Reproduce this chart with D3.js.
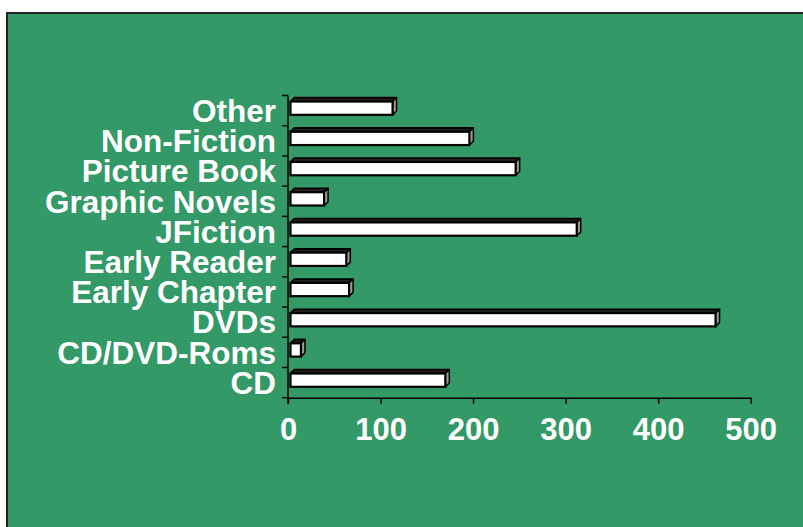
<!DOCTYPE html>
<html>
<head>
<meta charset="utf-8">
<script src="https://cdn.jsdelivr.net/npm/d3@7"></script>
<style>
  html, body { margin: 0; padding: 0; background: #ffffff; }
  svg { display: block; }
</style>
</head>
<body>
<script>
// Circulation by collection type
const categories = ["Other", "Non-Fiction", "Picture Book", "Graphic Novels", "JFiction",
                    "Early Reader", "Early Chapter", "DVDs", "CD/DVD-Roms", "CD"];
const counts = [113, 196, 246, 39, 312, 63, 66, 462, 14, 170];
const tickValues = [0, 100, 200, 300, 400, 500];

const W = 803, H = 527;
const svg = d3.select("body").append("svg").attr("width", W).attr("height", H);

// Green panel with dark frame
svg.append("rect")
  .attr("x", 7).attr("y", 13).attr("width", W + 10).attr("height", H + 10)
  .attr("fill", "#339966").attr("stroke", "#222").attr("stroke-width", 2);

const x = d3.scaleLinear().domain([0, 500]).range([288, 750.7]);
const y = d3.scaleBand().domain(categories).range([95.5, 397.7]).padding(0);
const bw = y.bandwidth();

const font = "'Liberation Sans', Arial, sans-serif";

// Value axis
const xAxis = svg.append("g")
  .attr("transform", `translate(0,${y.range()[1]})`)
  .call(d3.axisBottom(x).tickValues(tickValues).tickSize(6).tickSizeOuter(0).tickPadding(14));
xAxis.select(".domain").attr("stroke", "#000").attr("stroke-width", 1.5);
xAxis.selectAll(".tick line").attr("stroke", "#000").attr("stroke-width", 1.5);
xAxis.selectAll(".tick text")
  .attr("fill", "#fff").attr("font-family", font).attr("font-weight", "bold")
  .attr("font-size", 31).attr("dy", "0.71em");

// Category axis: ticks at band boundaries, labels centred in each band
const yAxis = svg.append("g").attr("transform", `translate(${x(0)},0)`);
yAxis.append("line")
  .attr("x1", 0).attr("x2", 0).attr("y1", y.range()[0]).attr("y2", y.range()[1] + 6)
  .attr("stroke", "#000").attr("stroke-width", 1.5);
const bounds = categories.map(c => y(c)).concat([y.range()[1]]);
yAxis.selectAll("line.tk").data(bounds).join("line").attr("class", "tk")
  .attr("x1", -6).attr("x2", 0).attr("y1", d => d).attr("y2", d => d)
  .attr("stroke", "#000").attr("stroke-width", 1.5);
yAxis.selectAll("text").data(categories).join("text")
  .attr("x", -12).attr("y", d => y(d) + bw / 2).attr("dy", "0.36em")
  .attr("text-anchor", "end").attr("fill", "#fff")
  .attr("font-family", font).attr("font-weight", "bold").attr("font-size", 31.5)
  .text(d => d);

// 3-D style bars: top face, side face, then front face
const dx = 4, dy = -3.8;
const bars = svg.append("g").selectAll("g").data(categories).join("g");
const fy = c => y(c) + bw * 0.2;
const fh = bw * 0.44;
const x0 = x(0) + 2.5;

bars.append("path")
  .attr("d", (c, i) => {
    const x1 = x(counts[i]), t = fy(c);
    return `M${x0},${t}L${x0 + dx},${t + dy}L${x1 + dx},${t + dy}L${x1},${t}Z`;
  })
  .attr("fill", "#222").attr("stroke", "#000").attr("stroke-width", 1.8).attr("stroke-linejoin", "round");

bars.append("path")
  .attr("d", (c, i) => {
    const x1 = x(counts[i]), t = fy(c);
    return `M${x1},${t}L${x1 + dx},${t + dy}L${x1 + dx},${t + dy + fh}L${x1},${t + fh}Z`;
  })
  .attr("fill", "#999").attr("stroke", "#000").attr("stroke-width", 1.5).attr("stroke-linejoin", "round");

bars.append("rect")
  .attr("x", x0).attr("y", c => fy(c))
  .attr("width", (c, i) => x(counts[i]) - x0).attr("height", fh)
  .attr("fill", "#fff").attr("stroke", "#000").attr("stroke-width", 2.2);
</script>
</body>
</html>
